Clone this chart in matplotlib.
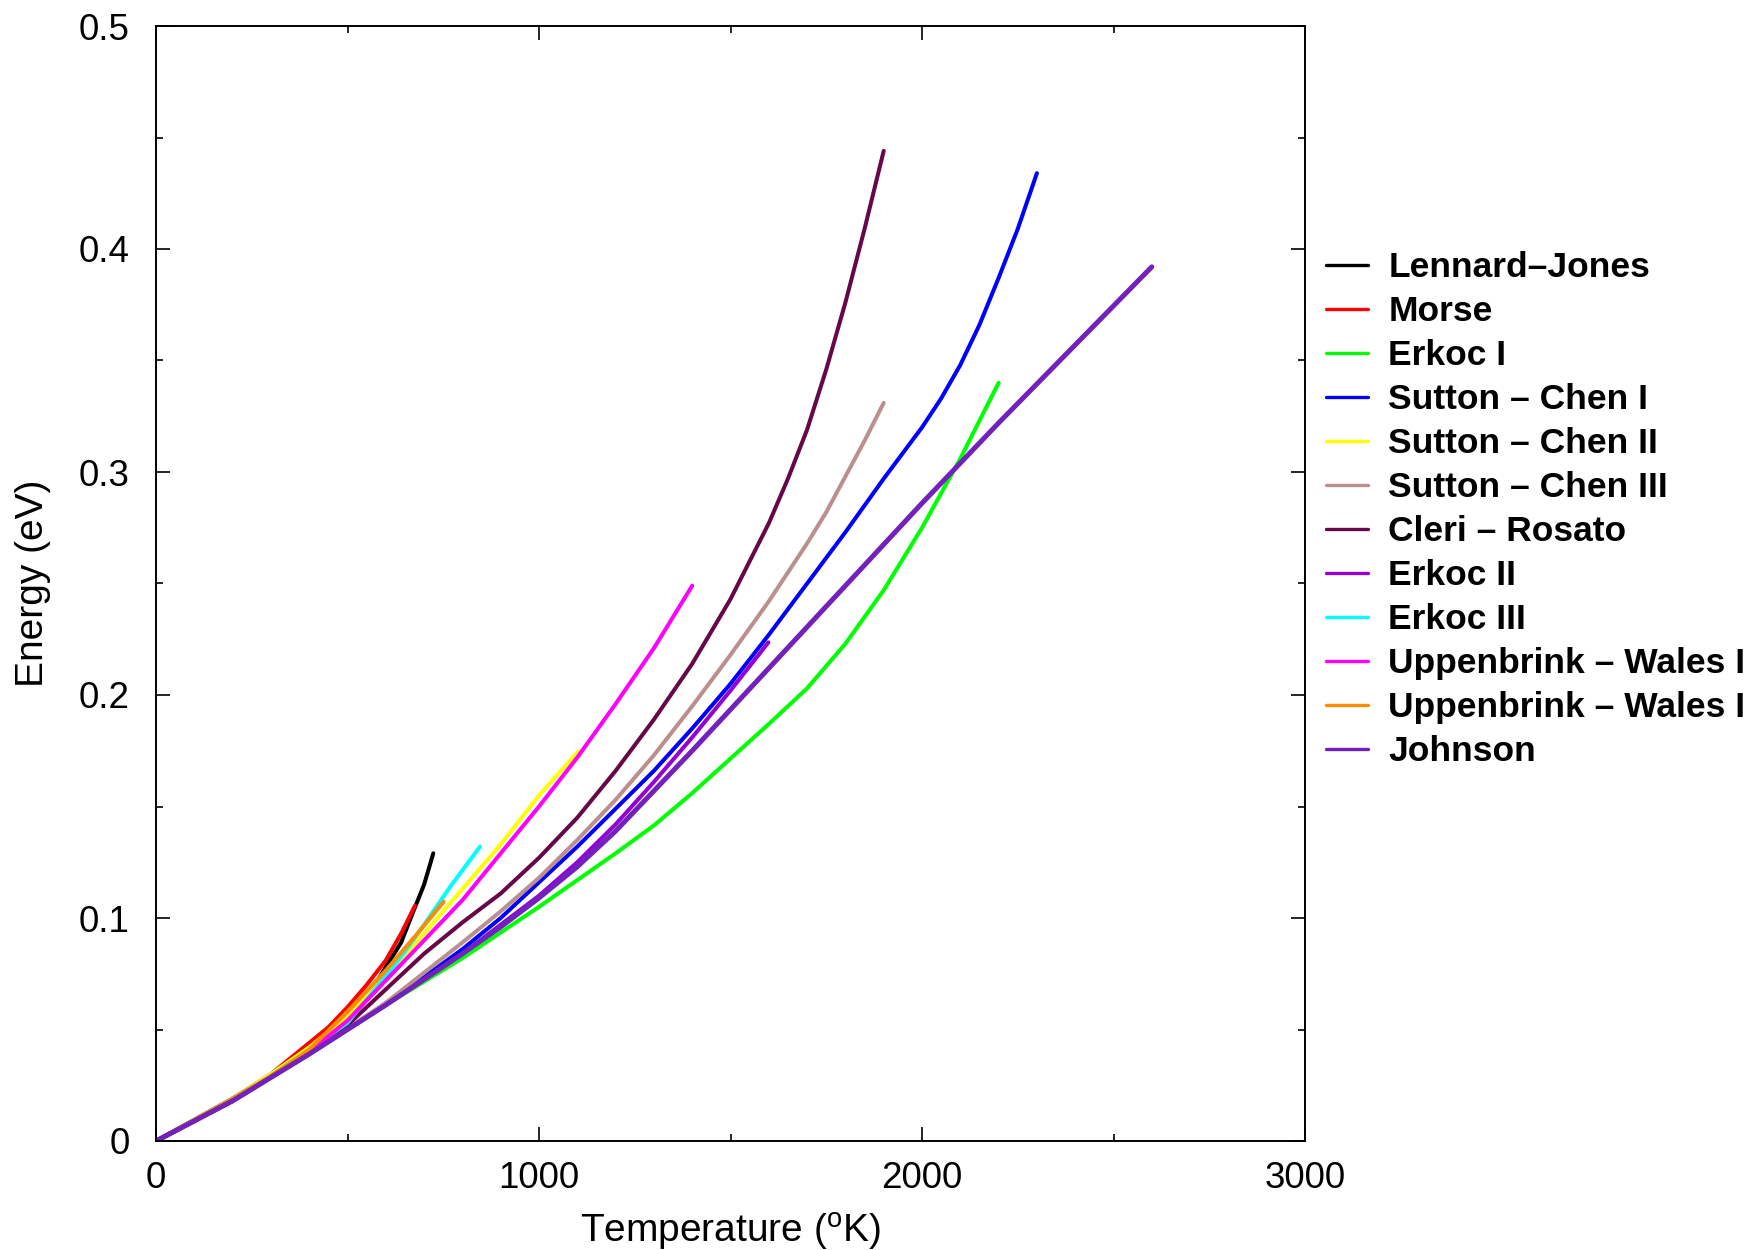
import matplotlib
matplotlib.use("Agg")
import matplotlib.pyplot as plt
from matplotlib.ticker import MultipleLocator

########### data (T in K, E in eV)
lj_t = [0, 200, 300, 400, 450, 500, 550, 600, 640, 672, 700, 724]
lj_e = [0, 0.019, 0.029, 0.042, 0.048, 0.055, 0.064, 0.078, 0.089, 0.103, 0.115, 0.129]

morse_t = [0, 200, 300, 400, 450, 500, 550, 600, 640, 676]
morse_e = [0, 0.019, 0.030, 0.044, 0.051, 0.060, 0.070, 0.081, 0.093, 0.1055]

erkoc1_t = [0, 200, 400, 600, 800, 1000, 1200, 1300, 1400, 1500, 1600, 1700, 1800, 1900, 2000, 2100, 2200]
erkoc1_e = [0, 0.018, 0.039, 0.061, 0.082, 0.105, 0.129, 0.1415, 0.156, 0.1715, 0.187, 0.203, 0.223, 0.247, 0.275, 0.306, 0.340]

sc1_t = [0, 200, 400, 600, 800, 900, 1000, 1100, 1200, 1300, 1400, 1500, 1600, 1700, 1800, 1900, 2000,
         2050, 2100, 2150, 2200, 2250, 2300]
sc1_e = [0, 0.018, 0.039, 0.061, 0.086, 0.100, 0.116, 0.132, 0.149, 0.166, 0.185, 0.205, 0.227, 0.250, 0.273, 0.297, 0.320,
         0.333, 0.348, 0.366, 0.387, 0.409, 0.434]

sc2_t = [0, 200, 300, 400, 500, 600, 700, 800, 900, 1000, 1103]
sc2_e = [0, 0.019, 0.030, 0.042, 0.056, 0.074, 0.093, 0.113, 0.133, 0.155, 0.1748]

sc3_t = [0, 200, 400, 600, 800, 900, 1000, 1100, 1200, 1300, 1400, 1500, 1600, 1700, 1750, 1800, 1850, 1900]
sc3_e = [0, 0.018, 0.039, 0.062, 0.089, 0.103, 0.118, 0.135, 0.153, 0.173, 0.195, 0.218, 0.242, 0.268, 0.282, 0.298, 0.314, 0.331]

cleri_t = [0, 200, 400, 500, 600, 700, 800, 900, 1000, 1100, 1200, 1300, 1400, 1500, 1600, 1650, 1700, 1750, 1800, 1850, 1900]
cleri_e = [0, 0.018, 0.040, 0.052, 0.068, 0.084, 0.098, 0.111, 0.127, 0.145, 0.166, 0.189, 0.214, 0.243, 0.277, 0.297, 0.319, 0.346, 0.376, 0.409, 0.444]

erkoc2_t = [0, 200, 400, 600, 800, 900, 1000, 1100, 1200, 1300, 1400, 1500, 1599]
erkoc2_e = [0, 0.018, 0.039, 0.061, 0.084, 0.097, 0.110, 0.125, 0.142, 0.161, 0.181, 0.202, 0.2236]

erkoc3_t = [0, 200, 300, 400, 500, 600, 650, 700, 768, 846]
erkoc3_e = [0, 0.019, 0.029, 0.041, 0.053, 0.074, 0.085, 0.097, 0.114, 0.132]

uw1_t = [0, 200, 400, 500, 600, 700, 800, 900, 1000, 1100, 1200, 1300, 1400]
uw1_e = [0, 0.018, 0.040, 0.054, 0.072, 0.090, 0.108, 0.129, 0.150, 0.172, 0.196, 0.221, 0.249]

uw2_t = [0, 200, 300, 400, 500, 600, 680, 751]
uw2_e = [0, 0.019, 0.029, 0.041, 0.058, 0.0765, 0.0925, 0.1073]

johnson_t = [0, 200, 400, 600, 800, 900, 1000, 1100, 1200, 1400, 1600, 1800, 2000, 2200, 2400, 2600]
johnson_e = [0, 0.018, 0.039, 0.061, 0.084, 0.096, 0.109, 0.123, 0.139, 0.175, 0.212, 0.249, 0.286, 0.322, 0.357, 0.392]

labels = ["Lennard\u2013Jones", "Morse", "Erkoc I", "Sutton \u2013 Chen I", "Sutton \u2013 Chen II",
          "Sutton \u2013 Chen III", "Cleri \u2013 Rosato", "Erkoc II", "Erkoc III",
          "Uppenbrink \u2013 Wales I", "Uppenbrink \u2013 Wales II", "Johnson"]
colors = ["#000000", "#ff0000", "#00ff00", "#0000ff", "#ffff00", "#bc8f8f",
          "#670748", "#9400d3", "#00ffff", "#ff00ff", "#ff8c00", "#7221bc"]

series = [(lj_t, lj_e), (morse_t, morse_e), (erkoc1_t, erkoc1_e), (sc1_t, sc1_e),
          (sc2_t, sc2_e), (sc3_t, sc3_e), (cleri_t, cleri_e), (erkoc2_t, erkoc2_e),
          (erkoc3_t, erkoc3_e), (uw1_t, uw1_e), (uw2_t, uw2_e), (johnson_t, johnson_e)]

########### figure
plt.rcParams['font.family'] = ['Liberation Sans', 'DejaVu Sans']
fig = plt.figure(figsize=(17.47, 12.5), dpi=100)
ax = fig.add_axes([0.0893, 0.0872, 0.6577, 0.892])

for (t, e), lab, col in zip(series, labels, colors):
	lw = 3.6 if lab == "Johnson" else 2.9
	ax.plot(t, e, color=col, lw=lw, label=lab, solid_capstyle='round', solid_joinstyle='round')

ax.set_xlim(0, 3000)
ax.set_ylim(0, 0.5)
ax.set_xticks([0, 1000, 2000, 3000])
ax.set_xticklabels(["0", "1000", "2000", "3000"])
ax.set_yticks([0, 0.1, 0.2, 0.3, 0.4, 0.5])
ax.set_yticklabels(["0", "0.1", "0.2", "0.3", "0.4", "0.5"])
ax.xaxis.set_minor_locator(MultipleLocator(500))
ax.yaxis.set_minor_locator(MultipleLocator(0.05))

ax.tick_params(which='both', direction='in', top=True, right=True, width=1.2)
ax.tick_params(which='major', length=10, labelsize=26.5)
ax.tick_params(axis='y', which='major', pad=19)
ax.tick_params(axis='x', which='major', pad=14.5)
ax.tick_params(which='minor', length=5)
for sp in ax.spines.values():
	sp.set_linewidth(1.4)

ax.set_xlabel("Temperature ($\\mathregular{^o}$K)", fontsize=28, labelpad=11)
ax.set_ylabel("Energy (eV)", fontsize=28, labelpad=20)

# legend runs off the right edge, as in the original
leg = fig.legend(loc='upper left', bbox_to_anchor=(0.759, 0.799), frameon=False,
                 prop={'weight': 'bold', 'size': 25.5}, handlelength=1.2, handletextpad=0.56,
                 labelspacing=0.31, borderpad=0, borderaxespad=0)
for line in leg.get_lines():
	line.set_linewidth(2.4)

fig.savefig("out.png", dpi=100)
